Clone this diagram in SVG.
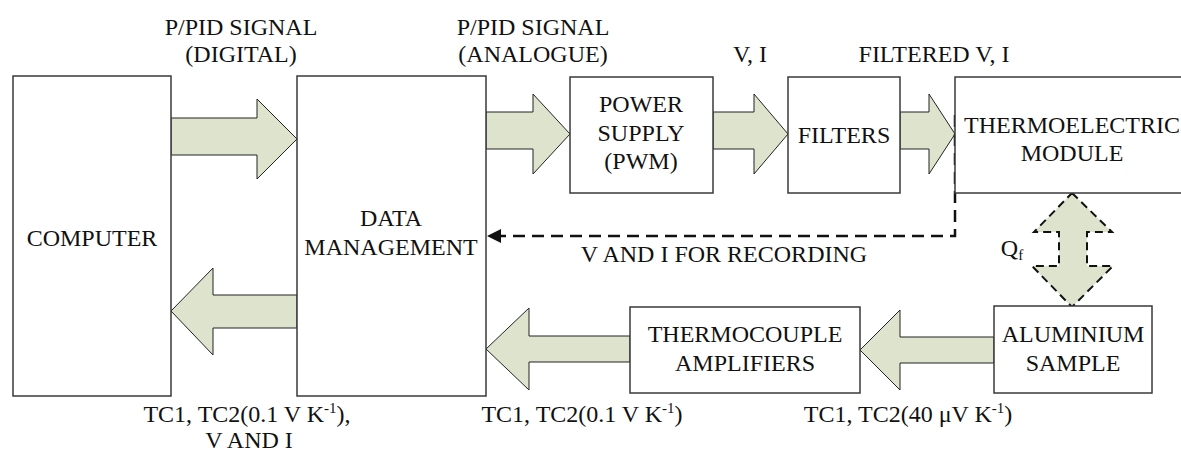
<svg xmlns="http://www.w3.org/2000/svg" width="1181" height="458" viewBox="0 0 1181 458">
<defs>
<style>
.box{fill:#fff;stroke:#3a3a3a;stroke-width:1.5}
.arr{fill:#dde3cd;stroke:#222;stroke-width:1}
.t{font-family:'Liberation Serif','Times New Roman',serif;font-size:24px;fill:#111;text-anchor:middle}
.sup{font-size:15px}
.dash{fill:none;stroke:#111;stroke-width:2.5;stroke-dasharray:12 7}
</style>
<marker id="ah" markerUnits="userSpaceOnUse" markerWidth="16" markerHeight="14" refX="14" refY="7" orient="auto">
<path d="M0,0 L14,7 L0,14 Z" fill="#111"/>
</marker>
</defs>
<rect width="1181" height="458" fill="#fff"/>

<g id="connectors">
<polygon class="arr" points="171,118 257,118 257,99 297,139 257,179 257,155 171,155"/>
<polygon class="arr" points="486,112 533,112 533,94 570,134 533,174 533,149 486,149"/>
<polygon class="arr" points="713,112 754,112 754,94 788,134 754,174 754,149 713,149"/>
<polygon class="arr" points="900,112 929,112 929,94 955,134 929,174 929,149 900,149"/>
<polygon class="arr" points="297,295 213,295 213,268 171,311 213,355 213,328 297,328"/>
<polygon class="arr" points="630,336 529,336 529,308 486,349 529,390 529,362 630,362"/>
<polygon class="arr" points="994,337 900,337 900,310 860,350 900,390 900,363 994,363"/>
<polygon points="1072,193 1112,232 1087,232 1087,266 1113,266 1072,307 1032,266 1059,266 1059,232 1034,232" fill="#dde3cd" stroke="#111" stroke-width="2" stroke-dasharray="8 5"/>
<path class="dash" d="M955,115 V236 H487" marker-end="url(#ah)"/>
</g>

<g id="computer">
<rect class="box" x="13" y="76" width="158" height="320"/>
<text class="t" x="92" y="246">COMPUTER</text>
</g>
<g id="data-management">
<rect class="box" x="297" y="76" width="189" height="320"/>
<text class="t" x="391" y="226">DATA</text>
<text class="t" x="391" y="255">MANAGEMENT</text>
</g>
<g id="power-supply">
<rect class="box" x="570" y="77" width="143" height="116"/>
<text class="t" x="641" y="112">POWER</text>
<text class="t" x="641" y="141">SUPPLY</text>
<text class="t" x="641" y="169">(PWM)</text>
</g>
<g id="filters">
<rect class="box" x="788" y="77" width="112" height="116"/>
<text class="t" x="844" y="143">FILTERS</text>
</g>
<g id="thermoelectric-module">
<rect class="box" x="955" y="77" width="240" height="116"/>
<text class="t" x="1072" y="133">THERMOELECTRIC</text>
<text class="t" x="1072" y="161">MODULE</text>
</g>
<g id="aluminium-sample">
<rect class="box" x="994" y="306" width="158" height="87"/>
<text class="t" x="1073" y="342">ALUMINIUM</text>
<text class="t" x="1073" y="371">SAMPLE</text>
</g>
<g id="thermocouple-amplifiers">
<rect class="box" x="630" y="307" width="230" height="86"/>
<text class="t" x="745" y="342">THERMOCOUPLE</text>
<text class="t" x="745" y="371">AMPLIFIERS</text>
</g>

<g id="labels">
<text class="t" x="241" y="35">P/PID SIGNAL</text>
<text class="t" x="241" y="62">(DIGITAL)</text>
<text class="t" x="533" y="35">P/PID SIGNAL</text>
<text class="t" x="533" y="62">(ANALOGUE)</text>
<text class="t" x="750" y="62">V, I</text>
<text class="t" x="934" y="62">FILTERED V, I</text>
<text class="t" x="724" y="262">V AND I FOR RECORDING</text>
<text class="t" x="1012" y="256">Q<tspan class="sup" dy="4">f</tspan></text>
<text class="t" x="247" y="422">TC1, TC2(0.1 V K<tspan class="sup" dy="-9">-1</tspan><tspan dy="9">),</tspan></text>
<text class="t" x="249" y="448">V AND I</text>
<text class="t" x="582" y="422">TC1, TC2(0.1 V K<tspan class="sup" dy="-9">-1</tspan><tspan dy="9">)</tspan></text>
<text class="t" x="908" y="422">TC1, TC2(40 μV K<tspan class="sup" dy="-9">-1</tspan><tspan dy="9">)</tspan></text>
</g>
</svg>
